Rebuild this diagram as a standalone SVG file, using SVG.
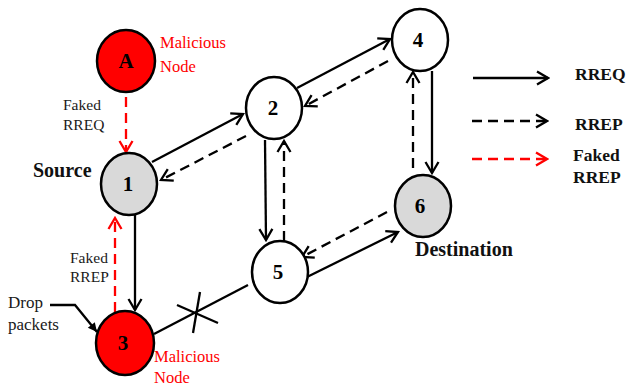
<svg xmlns="http://www.w3.org/2000/svg" width="626" height="390" viewBox="0 0 626 390">
<style>
.n{stroke:#000;stroke-width:2.5}
.w{fill:#fff}.g{fill:#d9d9d9}.r{fill:#ff0000}
.nl{font-family:"Liberation Serif",serif;font-weight:bold;font-size:21px;text-anchor:middle;fill:#000}
.lb{font-family:"Liberation Serif",serif;font-size:15.5px;fill:#1a1a1a}
.mal{font-family:"Liberation Serif",serif;font-size:16.5px;fill:#ff0000}
.bd{font-family:"Liberation Serif",serif;font-weight:bold;font-size:20px;fill:#111}
.lg{font-family:"Liberation Serif",serif;font-weight:bold;font-size:17.5px;fill:#111}
.s{stroke:#000;stroke-width:2.3;fill:none}
.d{stroke:#000;stroke-width:2.3;fill:none;stroke-dasharray:10 6}
.rd{stroke:#ff0000;stroke-width:2.3;fill:none;stroke-dasharray:10 6}
</style>
<defs>
<marker id="ah" viewBox="-13 -8 15 16" markerWidth="15" markerHeight="16" refX="0" refY="0" orient="auto" markerUnits="userSpaceOnUse">
<path d="M-11,-6.5 L0,0 L-11,6.5" fill="none" stroke="#000" stroke-width="2.3"/>
</marker>
<marker id="ahr" viewBox="-13 -8 15 16" markerWidth="15" markerHeight="16" refX="0" refY="0" orient="auto" markerUnits="userSpaceOnUse">
<path d="M-11,-6.5 L0,0 L-11,6.5" fill="none" stroke="#ff0000" stroke-width="2.3"/>
</marker>
<marker id="ahf" viewBox="-10 -6 12 12" markerWidth="12" markerHeight="12" refX="0" refY="0" orient="auto" markerUnits="userSpaceOnUse">
<path d="M-9,-4.5 L0,0 L-9,4.5 Z" fill="#000"/>
</marker>
</defs>
<g id="connectors">
<line class="rd" x1="126" y1="97" x2="126" y2="152" marker-end="url(#ahr)"/>
<line class="s" x1="152" y1="162" x2="243" y2="114" marker-end="url(#ah)"/>
<line class="d" x1="246" y1="136" x2="161" y2="180" marker-end="url(#ah)"/>
<line class="s" x1="297" y1="88" x2="390" y2="39" marker-end="url(#ah)"/>
<line class="d" x1="388" y1="61" x2="305" y2="106" marker-end="url(#ah)"/>
<line class="s" x1="432" y1="71" x2="432" y2="173" marker-end="url(#ah)"/>
<line class="d" x1="413" y1="168" x2="413" y2="72" marker-end="url(#ah)"/>
<line class="s" x1="265" y1="140" x2="266" y2="240" marker-end="url(#ah)"/>
<line class="d" x1="284" y1="241" x2="284" y2="141" marker-end="url(#ah)"/>
<line class="s" x1="307" y1="277" x2="398" y2="232" marker-end="url(#ah)"/>
<line class="d" x1="387" y1="212" x2="302" y2="257" marker-end="url(#ah)"/>
<line class="s" x1="135" y1="215" x2="135" y2="310" marker-end="url(#ah)"/>
<line class="rd" x1="115" y1="312" x2="115" y2="218" marker-end="url(#ahr)"/>
<line class="s" x1="154" y1="334" x2="248" y2="285"/>
<line class="s" x1="177" y1="305" x2="218" y2="323"/>
<line class="s" x1="193" y1="333" x2="200" y2="292"/>
<path class="s" d="M50,305 L75,305 L97,332" marker-end="url(#ahf)"/>
</g>
<g id="nodeA"><ellipse class="n r" cx="126" cy="61" rx="29" ry="31"/><text class="nl" x="126" y="68">A</text></g>
<g id="node1"><ellipse class="n g" cx="129" cy="184" rx="28" ry="31"/><text class="nl" x="128" y="191">1</text></g>
<g id="node2"><ellipse class="n w" cx="274" cy="108" rx="28" ry="31"/><text class="nl" x="273" y="115">2</text></g>
<g id="node4"><ellipse class="n w" cx="420" cy="40" rx="28" ry="31"/><text class="nl" x="418" y="47">4</text></g>
<g id="node6"><ellipse class="n g" cx="423" cy="206" rx="28" ry="31"/><text class="nl" x="420" y="213">6</text></g>
<g id="node5"><ellipse class="n w" cx="280" cy="272" rx="28" ry="31"/><text class="nl" x="278" y="279">5</text></g>
<g id="node3"><ellipse class="n r" cx="125" cy="343" rx="29" ry="32"/><text class="nl" x="123" y="350">3</text></g>
<g id="labels">
<text class="mal" x="160" y="48">Malicious</text>
<text class="mal" x="160" y="72">Node</text>
<text class="lb" x="63" y="110">Faked</text>
<text class="lb" x="63" y="130">RREQ</text>
<text class="bd" x="33" y="177">Source</text>
<text class="bd" x="415" y="256">Destination</text>
<text class="lb" x="70" y="263">Faked</text>
<text class="lb" x="70" y="282">RREP</text>
<text class="lb" x="8" y="308" style="font-size:17px">Drop</text>
<text class="lb" x="8" y="330" style="font-size:17px">packets</text>
<text class="mal" x="154" y="362">Malicious</text>
<text class="mal" x="154" y="383">Node</text>
</g>
<g id="legend">
<line class="s" x1="473" y1="78" x2="548" y2="78" marker-end="url(#ah)"/>
<line class="d" x1="472" y1="121" x2="547" y2="121" marker-end="url(#ah)"/>
<line class="rd" x1="472" y1="159" x2="547" y2="159" marker-end="url(#ahr)"/>
<text class="lg" x="575" y="80">RREQ</text>
<text class="lg" x="575" y="130">RREP</text>
<text class="lg" x="573" y="161">Faked</text>
<text class="lg" x="573" y="183">RREP</text>
</g>
</svg>
